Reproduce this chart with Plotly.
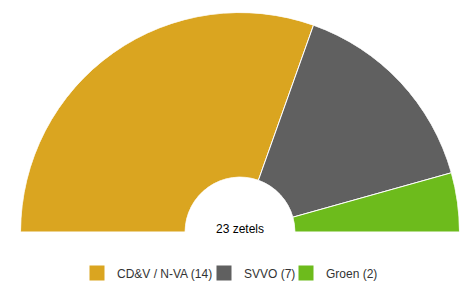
import plotly.graph_objects as go

parties = ["CD&V / N-VA", "SVVO", "Groen"]
seats = [14, 7, 2]
colors = ["#DAA520", "#606060", "#6DBB1C"]
center_label = "23 zetels"

legend_widths = [82, 37, 0]

total = sum(seats)
fig = go.Figure()
start = 0.0
for name, s, c in zip(parties, seats, colors):
    w = s * 180.0 / total
    fig.add_trace(go.Barpolar(
        r=[1], theta=[start + w / 2], width=[w],
        name=f"{name} ({s})",
        marker=dict(color=c, line=dict(color="white", width=1)),
        hoverinfo="name",
        showlegend=False,
        legendgroup=name,
    ))
    start += w

# legend entries (square swatches)
for name, s, c, lw in zip(parties, seats, colors, legend_widths):
    fig.add_trace(go.Scatterpolar(
        r=[None], theta=[None], mode="markers",
        name=f"{name} ({s})",
        marker=dict(symbol="square", size=15, color=c),
        legendgroup=name,
        legendwidth=lw if lw else None,
        hoverinfo="skip",
    ))

W, H = 475, 284
cx, cy, R = 240, 232, 219.5
fig.update_layout(
    width=W, height=H,
    margin=dict(l=0, r=0, t=0, b=0, autoexpand=False),
    paper_bgcolor="white",
    polar=dict(
        domain=dict(x=[(cx - R) / W, (cx + R) / W], y=[(H - cy) / H, (H - cy + R) / H]),
        sector=[0, 180],
        hole=0.25,
        bgcolor="white",
        radialaxis=dict(visible=False, range=[0, 1]),
        angularaxis=dict(visible=False, rotation=180, direction="clockwise"),
        bargap=0,
    ),
    showlegend=True,
    legend=dict(orientation="h", x=77 / W, xanchor="left", y=(H - 273) / H, yanchor="middle",
                itemsizing="trace",
                font=dict(family="Liberation Sans, Arial, sans-serif", size=12, color="#333333"),
                itemclick=False, itemdoubleclick=False),
    annotations=[dict(text=center_label, x=cx / W, y=(H - 229) / H, xref="paper", yref="paper",
                      xanchor="center", yanchor="middle",
                      showarrow=False, font=dict(family="Liberation Sans, Arial, sans-serif", size=12, color="#000000"))],
)
fig.write_html("out.html")
